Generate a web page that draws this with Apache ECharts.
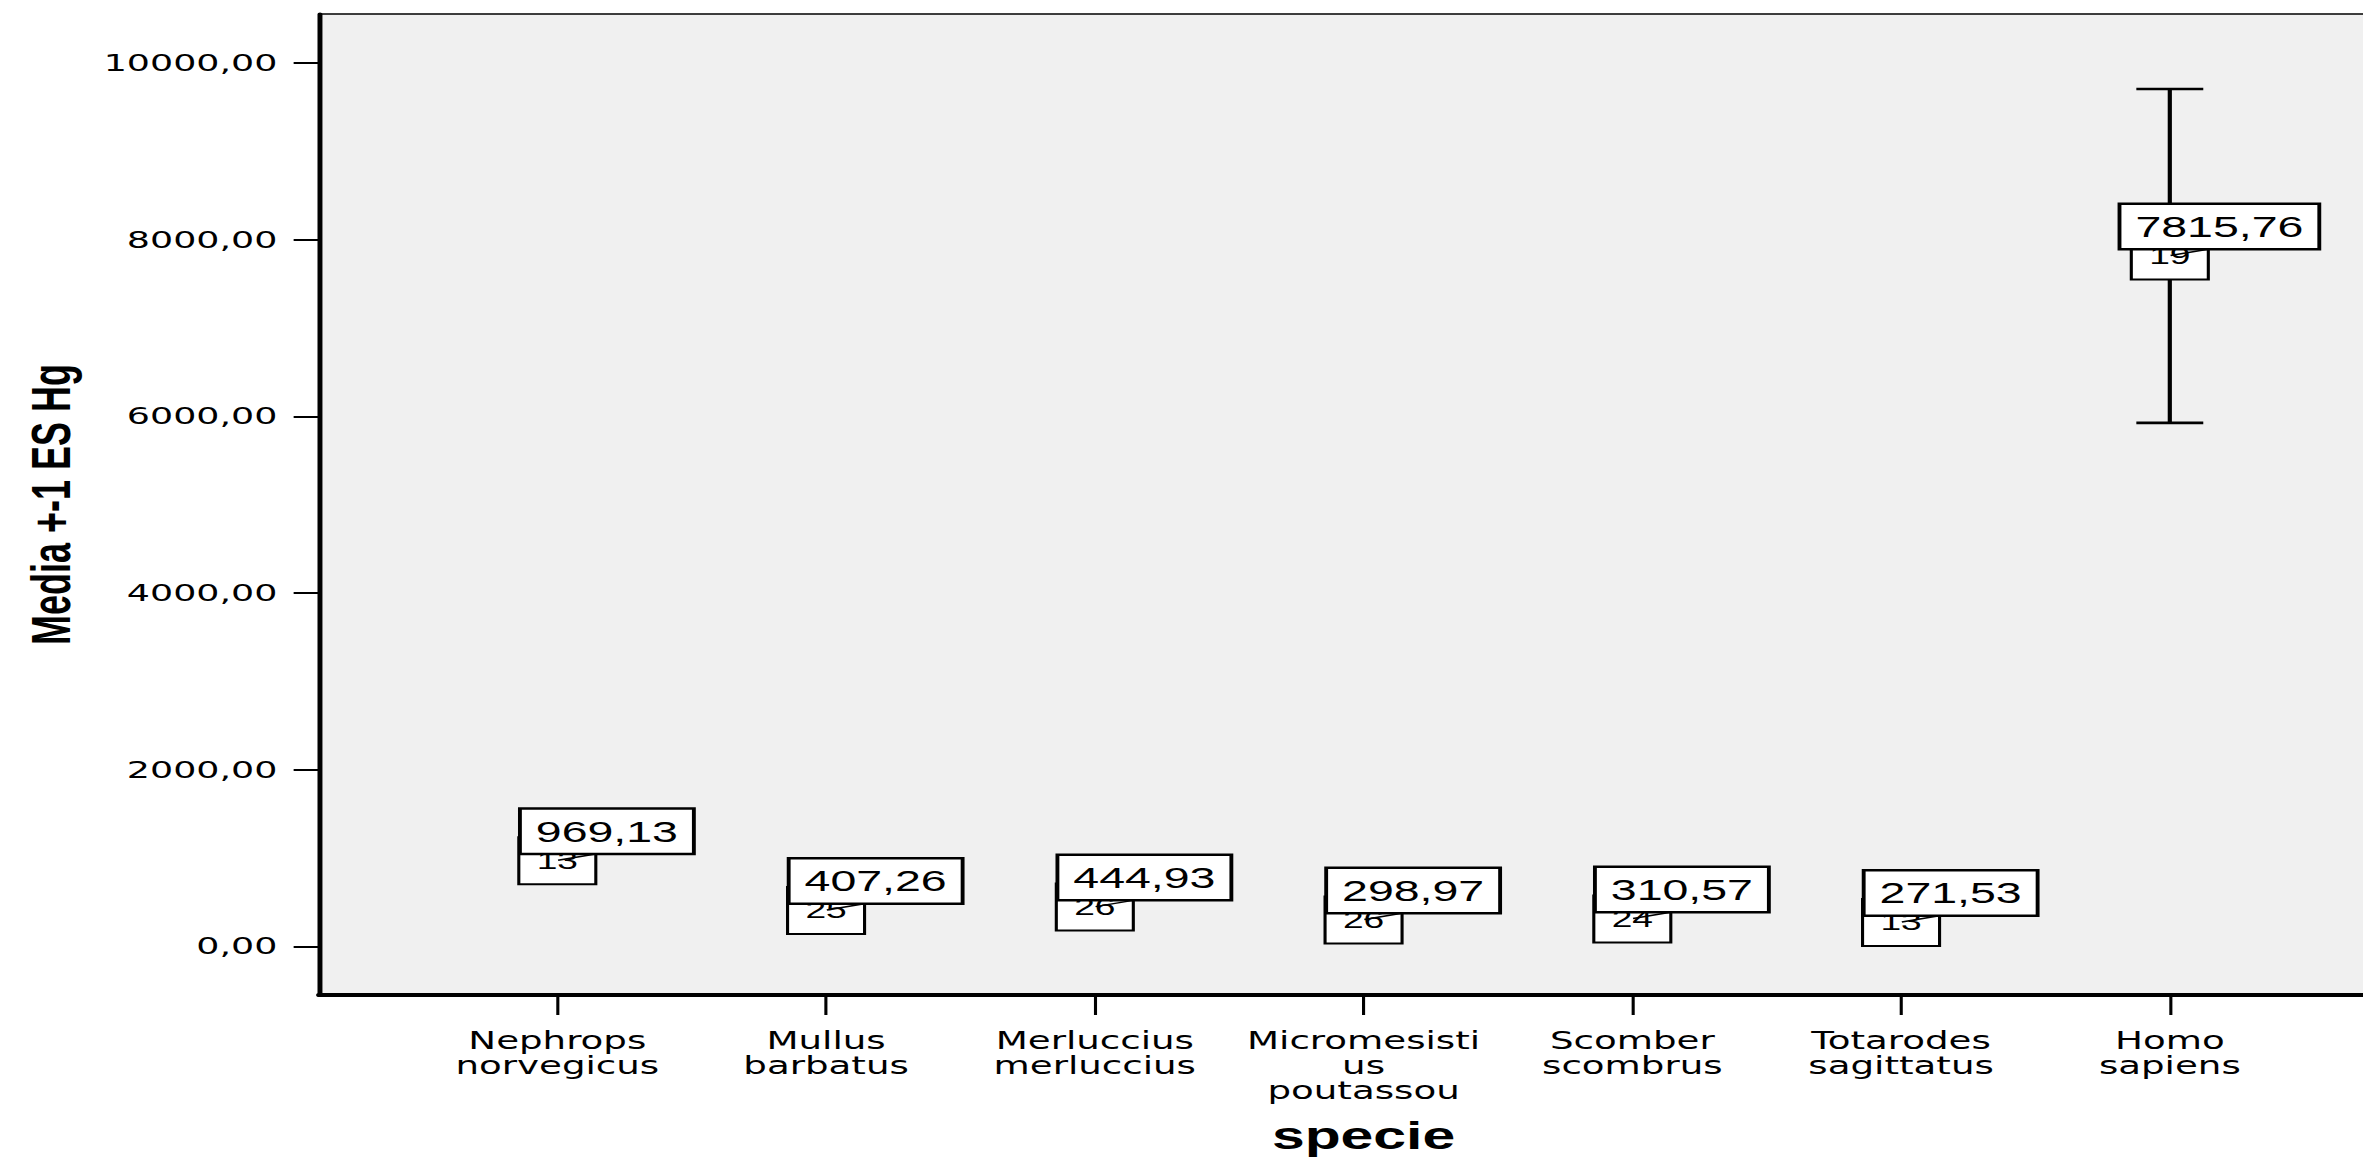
<!DOCTYPE html>
<html>
<head>
<meta charset="utf-8">
<title>Media +-1 ES Hg per specie</title>
<script src="https://cdn.jsdelivr.net/npm/echarts@6/dist/echarts.min.js"></script>
<style>
  html, body { margin: 0; padding: 0; background: #fff; overflow: hidden; }
  /* the original export is stretched horizontally, so draw narrow and stretch */
  #main { width: 1525px; height: 1160px; transform: scaleX(1.5495); transform-origin: 0 0; }
</style>
</head>
<body>
<div id="main"></div>
<script>
// categorie (asse x)
const species = [
  'Nephrops\nnorvegicus',
  'Mullus\nbarbatus',
  'Merluccius\nmerluccius',
  'Micromesisti\nus\npoutassou',
  'Scomber\nscombrus',
  'Totarodes\nsagittatus',
  'Homo\nsapiens'
];
// media Hg
const means = [969.13, 407.26, 444.93, 298.97, 310.57, 271.53, 7815.76];
// errore standard (stimato, per lo più nascosto dalle etichette)
const stdErr = [150, 90, 100, 80, 85, 75, 1890];
// numerosità
const counts = ['13', '25', '26', '26', '24', '13', '19'];
// tacche asse y
const yTicks = [0, 2000, 4000, 6000, 8000, 10000];
const xTicks = species.map((s, i) => i);

function fmt(v) {
  return v.toFixed(2).replace('.', ',');
}

const chart = echarts.init(document.getElementById('main'), null, { renderer: 'svg' });

const option = {
  animation: false,
  backgroundColor: '#fff',
  grid: {
    left: 206,
    top: 14,
    bottom: 165,
    width: 1348,
    outerBoundsMode: 'none',
    show: true,
    backgroundColor: '#f0f0f0',
    borderColor: '#000',
    borderWidth: 1.5
  },
  xAxis: {
    type: 'value',
    min: -0.886,
    max: 6.886,
    name: 'specie',
    nameLocation: 'middle',
    nameGap: 123,
    nameTextStyle: { fontFamily: 'Liberation Sans', fontWeight: 'bold', fontSize: 38, lineHeight: 36, color: '#000' },
    splitLine: { show: false },
    axisLine: { show: true, onZero: false, lineStyle: { color: '#000', width: 4 } },
    axisTick: { show: true, customValues: xTicks, length: 20, lineStyle: { color: '#000', width: 2 } },
    axisLabel: {
      customValues: xTicks,
      formatter: v => species[Math.round(v)],
      margin: 33,
      fontFamily: 'DejaVu Sans',
      fontSize: 24,
      lineHeight: 25,
      color: '#000'
    }
  },
  yAxis: {
    type: 'value',
    min: -550,
    max: 10555,
    name: 'Media +-1 ES Hg',
    nameLocation: 'middle',
    nameRotate: 90,
    nameGap: 155,
    nameTextStyle: { fontFamily: 'Liberation Sans', fontWeight: 'bold', fontSize: 36, color: '#000' },
    splitLine: { show: false },
    axisLine: { show: true, onZero: false, lineStyle: { color: '#000', width: 3.2 } },
    axisTick: { show: true, customValues: yTicks, length: 16.5, lineStyle: { color: '#000', width: 2 } },
    axisLabel: {
      customValues: yTicks,
      formatter: v => fmt(v),
      margin: 27,
      fontFamily: 'DejaVu Sans',
      fontSize: 23.5,
      color: '#000'
    }
  },
  series: [
    {
      // barre di errore +-1 ES
      type: 'custom',
      z: 2,
      data: means.map((m, i) => [i, m - stdErr[i], m + stdErr[i]]),
      encode: { x: 0, y: [1, 2] },
      renderItem: function (params, api) {
        const x = api.value(0);
        const lo = api.coord([x, api.value(1)]);
        const hi = api.coord([x, api.value(2)]);
        const half = 21.6;
        const style = { stroke: '#000', lineWidth: 2.7 };
        return {
          type: 'group',
          children: [
            { type: 'line', shape: { x1: lo[0], y1: lo[1], x2: hi[0], y2: hi[1] }, style: style },
            { type: 'line', shape: { x1: lo[0] - half, y1: lo[1], x2: lo[0] + half, y2: lo[1] }, style: style },
            { type: 'line', shape: { x1: hi[0] - half, y1: hi[1], x2: hi[0] + half, y2: hi[1] }, style: style }
          ]
        };
      }
    },
    {
      // riquadro con N
      type: 'scatter',
      z: 3,
      symbol: 'rect',
      symbolSize: 1,
      itemStyle: { color: 'rgba(0,0,0,0)', opacity: 1 },
      data: means.map((m, i) => [i, m]),
      label: {
        show: true,
        position: 'inside',
        formatter: p => counts[p.dataIndex],
        fontFamily: 'Liberation Sans',
        fontSize: 24,
        lineHeight: 24,
        color: '#000',
        backgroundColor: '#fff',
        borderColor: '#000',
        borderWidth: 2,
        padding: [10.5, 10.5]
      }
    },
    {
      // riquadro con la media
      type: 'scatter',
      z: 4,
      symbol: 'rect',
      symbolSize: 1,
      itemStyle: { color: 'rgba(0,0,0,0)', opacity: 1 },
      data: means.map((m, i) => [i, m]),
      label: {
        show: true,
        position: 'inside',
        offset: [32, -29.5],
        formatter: p => fmt(means[p.dataIndex]),
        fontFamily: 'Liberation Sans',
        fontSize: 30,
        lineHeight: 30,
        color: '#000',
        backgroundColor: '#fff',
        borderColor: '#000',
        borderWidth: 2.5,
        padding: [6.5, 9]
      },
      labelLine: { show: true, lineStyle: { color: '#000', width: 1.5 } }
    }
  ]
};

chart.setOption(option);
</script>
</body>
</html>
